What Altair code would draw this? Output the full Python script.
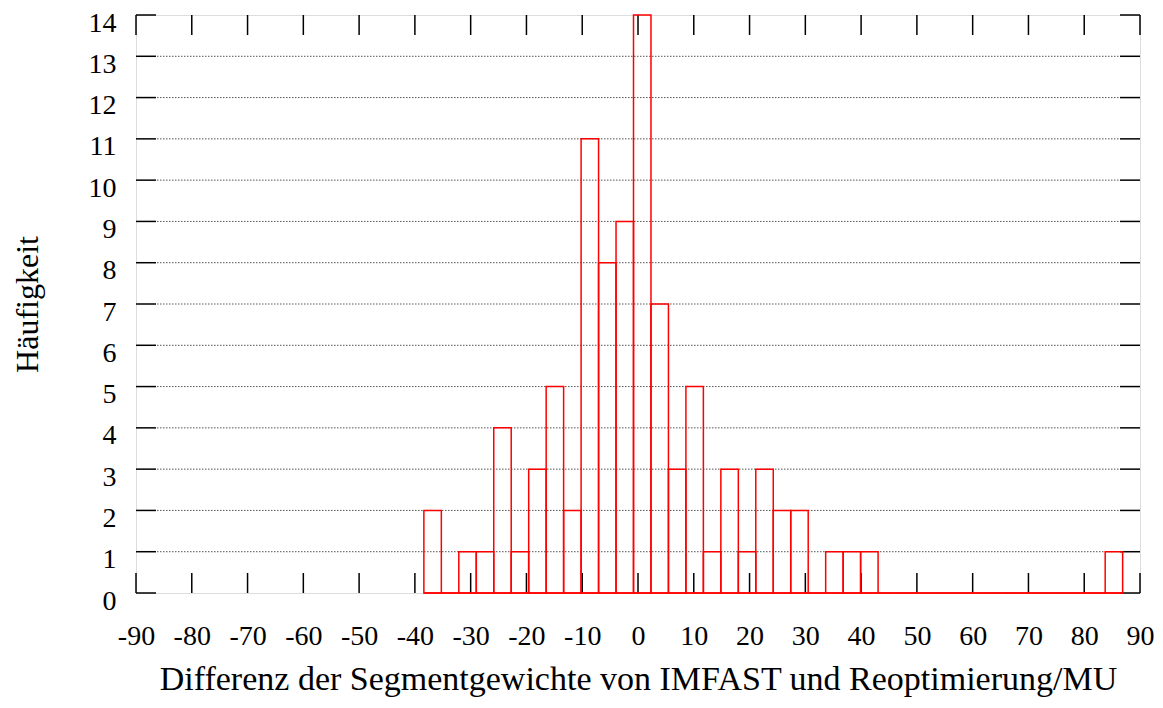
import altair as alt
import pandas as pd

# ---- data ----
bin_start = -38.39          # left edge of the first histogram bin
bin_width = 3.132           # width of every bin
counts = [2, 0, 1, 1, 4, 1, 3, 5, 2, 11,
          8, 9, 14, 7, 3, 5, 1, 3, 1, 3,
          2, 2, 0, 1, 1, 1, 0, 0, 0, 0,
          0, 0, 0, 0, 0, 0, 0, 0, 0, 1]
x_ticks = [-90, -80, -70, -60, -50, -40, -30, -20, -10, 0,
           10, 20, 30, 40, 50, 60, 70, 80, 90]
y_ticks = list(range(0, 15))
grid_levels = list(range(1, 14))
x_title = "Differenz der Segmentgewichte von IMFAST und Reoptimierung/MU"
y_title = "Häufigkeit"

W, H = 1004, 578
FONT = "Liberation Serif"
FS = 28

bars = pd.DataFrame({
    "x0": [bin_start + i * bin_width for i in range(len(counts))],
    "x1": [bin_start + (i + 1) * bin_width for i in range(len(counts))],
    "n": counts,
    "zero": [0] * len(counts),
})
xt = pd.DataFrame({"v": x_ticks})
yt = pd.DataFrame({"v": y_ticks})
gl = pd.DataFrame({"v": grid_levels})

xscale = alt.Scale(domain=[-90, 90], nice=False, zero=False)
yscale = alt.Scale(domain=[0, 14], nice=False, zero=False)

xaxis = alt.Axis(values=x_ticks, ticks=False, domain=False, grid=False,
                 labelExpr="'' + datum.value",
                 labelFont=FONT, labelFontSize=FS, labelColor="black",
                 labelPadding=29, labelFlush=False, labelOverlap=False,
                 title=x_title, titleFont=FONT, titleFontSize=34,
                 titleFontWeight="normal", titleColor="black", titlePadding=12)
yaxis = alt.Axis(values=y_ticks, ticks=False, domain=False, grid=False,
                 labelFont=FONT, labelFontSize=FS, labelColor="black",
                 labelPadding=20, labelFlush=False, labelOverlap=False,
                 labelOffset=8,
                 title=y_title, titleFont=FONT, titleFontSize=32,
                 titleFontWeight="normal", titleColor="black", titlePadding=44)

grid = alt.Chart(gl).mark_rule(color="#555555", strokeWidth=1, strokeDash=[1.5, 1.5]).encode(
    y=alt.Y("v:Q", scale=yscale, axis=yaxis),
    x=alt.value(21), x2=alt.value(W - 21),
)

hist = alt.Chart(bars).mark_rect(fillOpacity=0, stroke="#ff0000", strokeWidth=1.5).encode(
    x=alt.X("x0:Q", scale=xscale, axis=xaxis),
    x2="x1:Q",
    y=alt.Y("n:Q", scale=yscale),
    y2="zero:Q",
)

base_line = alt.Chart(bars).mark_rule(color="#ff0000", strokeWidth=1.5).encode(
    x=alt.X("min(x0):Q", scale=xscale),
    x2="max(x1):Q",
    y=alt.value(H),
)

tick_style = dict(color="black", strokeWidth=1.5)
xb = alt.Chart(xt).mark_rule(**tick_style).encode(
    x=alt.X("v:Q", scale=xscale), y=alt.value(H), y2=alt.value(H - 20))
xtop = alt.Chart(xt).mark_rule(**tick_style).encode(
    x=alt.X("v:Q", scale=xscale), y=alt.value(0), y2=alt.value(20))
yl = alt.Chart(yt).mark_rule(**tick_style).encode(
    y=alt.Y("v:Q", scale=yscale), x=alt.value(0), x2=alt.value(20))
yr = alt.Chart(yt).mark_rule(**tick_style).encode(
    y=alt.Y("v:Q", scale=yscale), x=alt.value(W), x2=alt.value(W - 20))

chart = alt.layer(grid, xb, xtop, yl, yr, base_line, hist).properties(
    width=W, height=H,
    autosize=alt.AutoSizeParams(type="none"),
    padding={"left": 128, "top": 7, "right": 15, "bottom": 107},
).configure_view(stroke="black", strokeWidth=1.5).configure(background="white")

chart.save("out.html", embed_options={"renderer": "svg", "actions": False})
